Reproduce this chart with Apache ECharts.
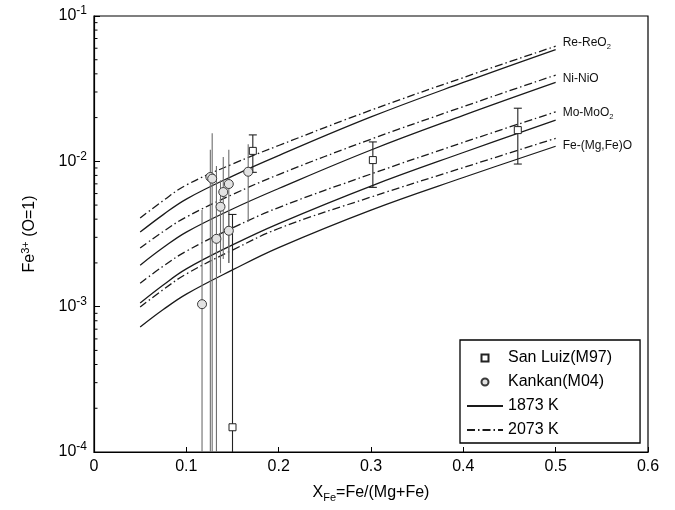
<!DOCTYPE html>
<html><head><meta charset="utf-8">
<script src="https://cdn.jsdelivr.net/npm/echarts@6/dist/echarts.min.js"></script>
<style>html,body{margin:0;padding:0;background:#fff}#c{width:675px;height:510px}</style>
</head><body><div id="c"></div>
<script>
// ---- curve data (x = X_Fe, y = Fe3+ per O) ----
const curveX = [0.05, 0.075, 0.1, 0.15, 0.2, 0.3, 0.4, 0.5];
const reReO2_1873  = [3.26e-3, 4.30e-3, 5.50e-3, 7.92e-3, 1.096e-2, 2.02e-2, 3.49e-2, 5.88e-2];
const niNiO_1873   = [1.93e-3, 2.55e-3, 3.26e-3, 4.70e-3, 6.50e-3, 1.197e-2, 2.07e-2, 3.49e-2];
const moMoO2_1873  = [1.06e-3, 1.41e-3, 1.82e-3, 2.66e-3, 3.73e-3, 6.76e-3, 1.15e-2, 1.92e-2];
const feMgFeO_1873 = [7.24e-4, 9.55e-4, 1.22e-3, 1.79e-3, 2.55e-3, 4.62e-3, 7.74e-3, 1.27e-2];
const reReO2_2073  = [4.07e-3, 5.37e-3, 6.87e-3, 9.58e-3, 1.285e-2, 2.25e-2, 3.77e-2, 6.20e-2];
const niNiO_2073   = [2.53e-3, 3.29e-3, 4.14e-3, 5.91e-3, 8.11e-3, 1.42e-2, 2.38e-2, 3.92e-2];
const moMoO2_2073  = [1.45e-3, 1.90e-3, 2.41e-3, 3.48e-3, 4.81e-3, 8.18e-3, 1.35e-2, 2.19e-2];
const feMgFeO_2073 = [9.94e-4, 1.31e-3, 1.68e-3, 2.45e-3, 3.45e-3, 5.68e-3, 9.06e-3, 1.44e-2];
const bufferLabels = ['Re-ReO{s|2}', 'Ni-NiO', 'Mo-MoO{s|2}', 'Fe-(Mg,Fe)O'];

// ---- San Luiz (M97) ----
const sanLuizX  = [0.150, 0.172, 0.302, 0.459];
const sanLuizY  = [1.48e-4, 1.18e-2, 1.02e-2, 1.64e-2];
const sanLuizHi = [4.31e-3, 1.52e-2, 1.36e-2, 2.32e-2];
const sanLuizLo = [5e-5, 8.40e-3, 6.62e-3, 9.58e-3];

// ---- Kankan (M04) ----
const kankanX  = [0.117, 0.126, 0.128, 0.1326, 0.137, 0.140, 0.146, 0.146, 0.167];
const kankanY  = [1.04e-3, 7.8e-3, 7.6e-3, 2.93e-3, 4.87e-3, 6.15e-3, 6.98e-3, 3.33e-3, 8.48e-3];
const kankanHi = [4.62e-3, 1.2e-2, 1.56e-2, 9.29e-3, 7.4e-3, 1.07e-2, 1.2e-2, 4.5e-3, 1.31e-2];
const kankanLo = [5e-5, 5e-5, 5e-5, 5e-5, 1.7e-3, 2.13e-3, 2.0e-3, 2.0e-3, 3.84e-3];

// ---- axes ----
const xTicks = [0, 0.1, 0.2, 0.3, 0.4, 0.5, 0.6];
const yMin = 1e-4, yMax = 1e-1;
const yMinorTicks = [2e-4,3e-4,4e-4,5e-4,6e-4,7e-4,8e-4,9e-4,2e-3,3e-3,4e-3,5e-3,6e-3,7e-3,8e-3,9e-3,2e-2,3e-2,4e-2,5e-2,6e-2,7e-2,8e-2,9e-2];

const FONT = 'Liberation Sans, Arial, Helvetica, sans-serif';
const DASHDOT = [8, 3, 1.5, 3];
const SQUARE = 'path://M0,0L10,0L10,10L0,10Z';
const HIDDEN = { color: 'rgba(0,0,0,0)', borderColor: 'rgba(0,0,0,0)', borderWidth: 0 };

function zip(xs, ys) { return xs.map((x, i) => [x, ys[i]]); }
function errData(xs, ys, lo, hi) { return xs.map((x, i) => [x, ys[i], lo[i], hi[i]]); }

function curve(name, ys, dashed, label, labelOffset) {
  const s = {
    name: name, type: 'line', data: zip(curveX, ys), smooth: 0.4,
    symbol: 'none', silent: true, z: 2,
    lineStyle: { color: '#1a1a1a', width: 1.3, type: dashed ? DASHDOT : 'solid' },
    itemStyle: { color: '#1a1a1a' }
  };
  if (label) {
    s.endLabel = {
      show: true, formatter: () => label, distance: 7, offset: labelOffset,
      fontFamily: FONT, fontSize: 12, color: '#111',
      rich: { s: { fontSize: 7.5, fontFamily: FONT, color: '#111', padding: [8, 0, 0, 0] } }
    };
  }
  return s;
}

function errorBars(data, color, cap) {
  return {
    type: 'custom', data: data, z: 3, silent: true,
    encode: { x: 0, y: 1 },
    renderItem: function (params, api) {
      const x = api.value(0);
      const cs = params.coordSys;
      const bottom = cs.y + cs.height;
      const p1 = api.coord([x, api.value(3)]);
      const p0 = api.coord([x, api.value(2)]);
      const yLow = Math.min(p0[1], bottom);
      const st = { stroke: color, lineWidth: 1.1 };
      const ch = [{ type: 'line', shape: { x1: p1[0], y1: p1[1], x2: p1[0], y2: yLow }, style: st }];
      if (cap) {
        ch.push({ type: 'line', shape: { x1: p1[0] - 4, y1: p1[1], x2: p1[0] + 4, y2: p1[1] }, style: st });
        if (p0[1] < bottom) ch.push({ type: 'line', shape: { x1: p0[0] - 4, y1: p0[1], x2: p0[0] + 4, y2: p0[1] }, style: st });
      }
      return { type: 'group', children: ch };
    }
  };
}

// minor ticks of the log axis (2..9 of each decade), placed through the axis scale
const minorTickSeries = {
  type: 'custom', silent: true, z: 6,
  data: yMinorTicks.map(v => [xTicks[0], v]),
  encode: { x: 0, y: 1 },
  renderItem: function (params, api) {
    const p = api.coord([api.value(0), api.value(1)]);
    return { type: 'line', shape: { x1: p[0], y1: p[1], x2: p[0] + 3.5, y2: p[1] }, style: { stroke: '#000', lineWidth: 1 } };
  }
};

const chart = echarts.init(document.getElementById('c'), null, { renderer: 'canvas' });
chart.setOption({
  backgroundColor: '#fff',
  animation: false,
  textStyle: { fontFamily: FONT },
  grid: { left: 94, right: 27, top: 16, bottom: 58, show: true, borderColor: '#000', borderWidth: 1.2, backgroundColor: 'transparent' },
  legend: {
    orient: 'vertical', left: 460, top: 340,
    itemWidth: 36, itemHeight: 7, itemGap: 8,
    padding: [10, 28, 5, 6],
    borderColor: '#000', borderWidth: 1.3, backgroundColor: '#fff',
    textStyle: { fontFamily: FONT, fontSize: 16, color: '#000' },
    data: [
      { name: 'San Luiz(M97)', icon: SQUARE },
      { name: 'Kankan(M04)' },
      { name: '1873 K', itemStyle: HIDDEN },
      { name: '2073 K', itemStyle: HIDDEN }
    ]
  },
  xAxis: {
    type: 'value', min: xTicks[0], max: xTicks[xTicks.length - 1], interval: 0.1,
    axisLine: { lineStyle: { color: '#000', width: 1.2 } },
    axisTick: { inside: true, length: 5, lineStyle: { color: '#000', width: 1 } },
    splitLine: { show: false },
    axisLabel: { color: '#000', fontSize: 16, fontFamily: FONT, margin: 7,
      formatter: v => (v === 0 ? '0' : v.toFixed(1)) },
    name: '{n|X}{b|Fe}{n|=Fe/(Mg+Fe)}', nameLocation: 'middle', nameGap: 31,
    nameTextStyle: { rich: {
      n: { fontSize: 16, fontFamily: FONT, color: '#000' },
      b: { fontSize: 11, fontFamily: FONT, color: '#000', padding: [9, 0, 0, 0] }
    } }
  },
  yAxis: {
    type: 'log', logBase: 10, min: yMin, max: yMax,
    axisLine: { lineStyle: { color: '#000', width: 1.2 } },
    axisTick: { inside: true, length: 6, lineStyle: { color: '#000', width: 1 } },
    minorTick: { show: false },
    splitLine: { show: false },
    axisLabel: {
      color: '#000', margin: 7, fontFamily: FONT,
      formatter: v => '{b|10}{s|' + Math.round(Math.log10(v)) + '}',
      rich: {
        b: { fontSize: 16, fontFamily: FONT, color: '#000' },
        s: { fontSize: 12, fontFamily: FONT, color: '#000', padding: [0, 0, 10, 0] }
      }
    },
    name: 'Fe{s|3+} (O=1)', nameLocation: 'middle', nameGap: 54, nameRotate: 90,
    nameTextStyle: { fontSize: 16, fontFamily: FONT, color: '#000', rich: {
      s: { fontSize: 11, fontFamily: FONT, color: '#000', padding: [0, 0, 9, 0] }
    } }
  },
  series: [
    curve('1873 K', reReO2_1873, false),
    curve('1873 K', niNiO_1873, false),
    curve('1873 K', moMoO2_1873, false),
    curve('1873 K', feMgFeO_1873, false),
    curve('2073 K', reReO2_2073, true, bufferLabels[0], [0, -3]),
    curve('2073 K', niNiO_2073, true, bufferLabels[1], [0, 4]),
    curve('2073 K', moMoO2_2073, true, bufferLabels[2], [0, 1]),
    curve('2073 K', feMgFeO_2073, true, bufferLabels[3], [0, 7]),
    errorBars(errData(kankanX, kankanY, kankanLo, kankanHi), '#6e6e6e', false),
    errorBars(errData(sanLuizX, sanLuizY, sanLuizLo, sanLuizHi), '#222', true),
    minorTickSeries,
    {
      name: 'Kankan(M04)', type: 'scatter', data: zip(kankanX, kankanY), z: 5,
      symbol: 'circle', symbolSize: 9, silent: true,
      itemStyle: { color: '#e2e2e2', borderColor: '#3a3a3a', borderWidth: 1, opacity: 1 }
    },
    {
      name: 'San Luiz(M97)', type: 'scatter', data: zip(sanLuizX, sanLuizY), z: 5,
      symbol: 'rect', symbolSize: 7, silent: true,
      itemStyle: { color: '#fff', borderColor: '#222', borderWidth: 1, opacity: 1 }
    }
  ]
});
</script>
</body></html>
